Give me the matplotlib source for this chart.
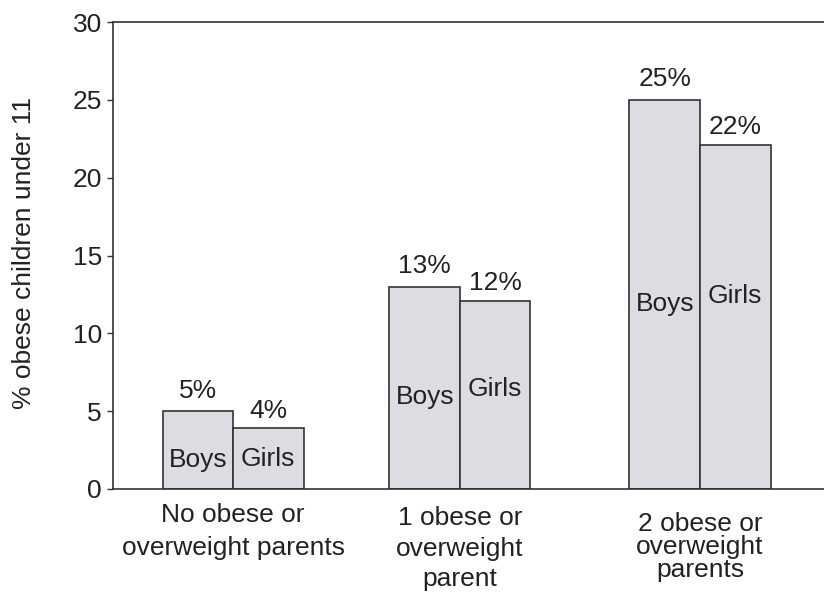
import numpy as np
import matplotlib
matplotlib.use("Agg")
import matplotlib.pyplot as plt

plt.rcParams['font.family'] = ['Liberation Sans', 'DejaVu Sans']

# data
groups = ["No obese or\noverweight parents",
          "1 obese or\noverweight\nparent",
          "2 obese or\noverweight\nparents"]
boys = [5, 13, 25]
girls = [3.9, 12.1, 22.1]
boys_pct = ["5%", "13%", "25%"]
girls_pct = ["4%", "12%", "22%"]

# layout
group_pos = np.array([0, 0.972, 2])
bar_w = 0.302
boys_txt_y = [1.85, 5.9, 11.9]
girls_txt_y = [1.9, 6.4, 12.4]
grp_linespacing = [1.5, 1.34, 0.95]
grp_top = [-0.88, -1.1, -1.5]

fill = '#dcdde2'
edge = '#333333'
txt = '#222222'
fs = 19

fig = plt.figure(figsize=(8.24, 5.94), dpi=100)
ax = fig.add_axes([113/824, (594-489)/594, 711/824, 467/594])

ax.bar(group_pos - bar_w/2, boys, bar_w, color=fill, edgecolor=edge, linewidth=1.2)
ax.bar(group_pos + bar_w/2, girls, bar_w, color=fill, edgecolor=edge, linewidth=1.2)

for i in range(3):
    xb = group_pos[i] - bar_w/2
    xg = group_pos[i] + bar_w/2
    ax.annotate(boys_pct[i], (xb, boys[i]), xytext=(0, 6), textcoords='offset points',
                ha='center', va='bottom', fontsize=fs, color=txt)
    ax.annotate(girls_pct[i], (xg, girls[i]), xytext=(0, 4), textcoords='offset points',
                ha='center', va='bottom', fontsize=fs, color=txt)
    ax.text(xb, boys_txt_y[i], "Boys", ha='center', va='center', fontsize=fs, color=txt)
    ax.text(xg, girls_txt_y[i], "Girls", ha='center', va='center', fontsize=fs, color=txt)
    ax.text(group_pos[i], grp_top[i], groups[i], ha='center', va='top', fontsize=fs,
            color=txt, linespacing=grp_linespacing[i], clip_on=False)

ax.set_xlim(-0.514, 2.531)
ax.set_ylim(0, 30)
ax.set_yticks(np.arange(0, 31, 5))
ax.set_xticks([])
ax.tick_params(axis='y', direction='out', length=4.5, width=1, pad=3.5,
               labelsize=fs, labelcolor=txt, color=edge)

for s in ['left', 'bottom', 'top']:
    ax.spines[s].set_color(edge)
    ax.spines[s].set_linewidth(1.2)
ax.spines['right'].set_visible(False)

fig.text(24/824, 1 - 253/594, "% obese children under 11", rotation=90,
         ha='center', va='center', fontsize=fs, color=txt)

fig.savefig("out.png", dpi=100)
